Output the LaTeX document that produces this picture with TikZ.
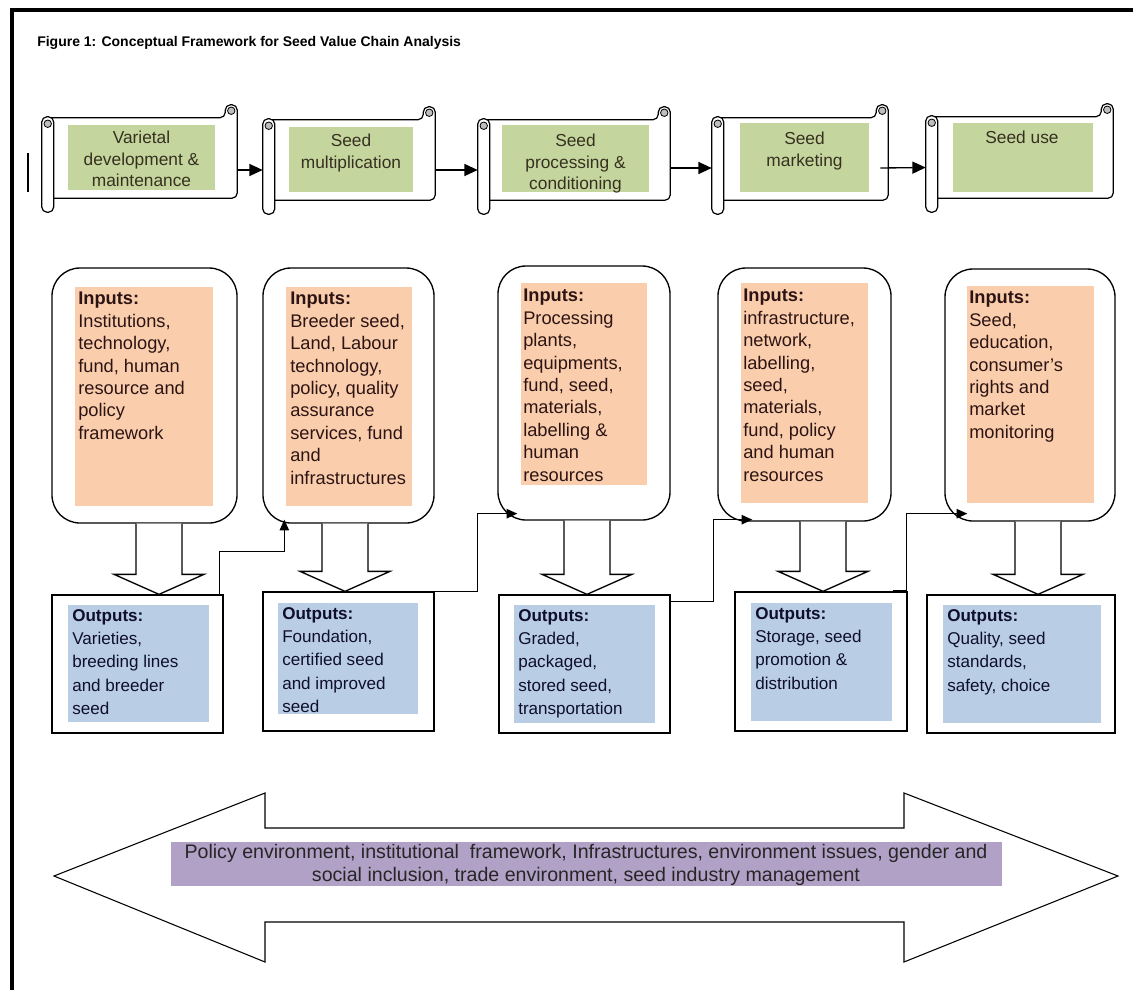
\documentclass[tikz,border=0pt]{standalone}
\usepackage{fontspec}
\setmainfont{Liberation Sans}
\usetikzlibrary{arrows.meta,calc,fit}

\definecolor{seedgreen}{RGB}{196,214,158}
\definecolor{inpeach}{RGB}{250,206,172}
\definecolor{outblue}{RGB}{185,205,228}
\definecolor{envpurple}{RGB}{178,161,199}
\definecolor{curlgray}{RGB}{190,190,190}
\definecolor{scrolltext}{RGB}{55,48,32}
\definecolor{intextc}{RGB}{45,20,20}
\definecolor{outtextc}{RGB}{15,15,45}

\newcommand{\scrollframe}[1]{%
  \draw[fill=white,rounded corners=4pt,line width=0.9pt] ($(#1.north west)+(6,0)$) -- ($(#1.north east)+(-12,0)$) -- ($(#1.north east)+(-12,-13)$) -- ($(#1.north east)+(0,-13)$) -- (#1.south east) -- ($(#1.south west)+(12,0)$);
  \draw[fill=white,rounded corners=4pt,line width=0.9pt] ($(#1.north west)+(0,-1)$) rectangle ($(#1.south west)+(12,14)$);
  \draw[fill=curlgray,line width=0.6pt] ($(#1.north west)+(6,6)$) circle[radius=2.8pt];
  \draw[fill=curlgray,line width=0.6pt] ($(#1.north east)+(-6,-7)$) circle[radius=2.8pt];
}
\newcommand{\blkarrow}[3]{%
  \coordinate (ax) at (#1,0);
  \draw[blk] ($(ax |- #2.south)+(-23,0)$) -- ($(ax |- #3.north)+(-23,-20)$) -- ($(ax |- #3.north)+(-45,-20)$) -- (ax |- #3.north) -- ($(ax |- #3.north)+(45,-20)$) -- ($(ax |- #3.north)+(23,-20)$) -- ($(ax |- #2.south)+(23,0)$);
}

\begin{document}
\begin{tikzpicture}[x=0.75pt,y=-0.75pt,
  scroll/.style={inner sep=0pt},
  inbox/.style={draw,rounded corners=21pt,line width=1pt,inner sep=0pt},
  outbox/.style={draw,line width=1pt,inner sep=0pt},
  steptext/.style={anchor=north,align=center,inner sep=0pt,text=scrolltext,font=\fontsize{13}{16}\selectfont},
  intext/.style={anchor=north west,align=left,inner sep=0pt,text=intextc,font=\fontsize{13.7}{16.8}\selectfont},
  outtext/.style={anchor=north west,align=left,inner sep=0pt,text=outtextc,font=\fontsize{12.8}{17.5}\selectfont},
  conn/.style={line width=1pt,-{Triangle[length=8pt,width=7pt]}},
  topconn/.style={line width=1pt,-{Triangle[length=10pt,width=9pt]}},
  blk/.style={line width=1pt,fill=white}]
\useasboundingbox (0,0) rectangle (1133,990);

\draw[line width=2.6pt] (1133,10) -- (12,10) -- (12,990);
\draw[line width=1.6pt] (28,153) -- (28,192);
\node[anchor=west,inner sep=0pt,font=\bfseries\fontsize{10.5}{12}\selectfont] (title) at (37,43) {Figure 1: Conceptual Framework for Seed Value Chain Analysis};

\node[scroll,fit={(42,118) (237,198)}] (sc1) {};
\node[scroll,fit={(263,120) (435,200)}] (sc2) {};
\node[scroll,fit={(478,120) (670,200)}] (sc3) {};
\node[scroll,fit={(712,118) (888,200)}] (sc4) {};
\node[scroll,fit={(926,117) (1113,198)}] (sc5) {};
\scrollframe{sc1}
\scrollframe{sc2}
\scrollframe{sc3}
\scrollframe{sc4}
\scrollframe{sc5}

\fill[seedgreen] (68,125) rectangle (215,190);
\fill[seedgreen] (289,127) rectangle (413,192);
\fill[seedgreen] (502,125) rectangle (649,192);
\fill[seedgreen] (740,123) rectangle (869,192);
\fill[seedgreen] (953,123) rectangle (1093,192);
\node[steptext] (st1) at (141.5,131) {Varietal\\development \&\\maintenance};
\node[steptext] (st2) at (351,134) {Seed\\multiplication};
\node[steptext] (st3) at (575.5,134) {Seed\\processing \&\\conditioning};
\node[steptext] (st4) at (804.5,132) {Seed\\marketing};
\node[steptext] (st5) at (1022,131) {Seed use};

\draw[topconn] ($(sc1.east)+(0,12)$) -- ($(sc2.west)+(0,10)$);
\draw[topconn] ($(sc2.east)+(0,10)$) -- ($(sc3.west)+(0,10)$);
\draw[topconn] ($(sc3.east)+(0,8)$) -- ($(sc4.west)+(0,9)$);
\draw[topconn] ($(sc4.east)+(-8,9)$) -- ($(sc5.west)+(0,10)$);

\node[inbox,fit={(52,268) (237,523)}] (ib1) {};
\node[inbox,fit={(263,268) (434,523)}] (ib2) {};
\node[inbox,fit={(498,266) (670,520)}] (ib3) {};
\node[inbox,fit={(718,268) (891,521)}] (ib4) {};
\node[inbox,fit={(945,269) (1115,521)}] (ib5) {};
\fill[inpeach] (75,287) rectangle (213,506);
\fill[inpeach] (286,287) rectangle (412,506);
\fill[inpeach] (521,283) rectangle (647,485);
\fill[inpeach] (741,283) rectangle (868,503);
\fill[inpeach] (967,286) rectangle (1094,503);
\node[intext] (it1) at (78,292) {\textbf{Inputs:}\\Institutions,\\technology,\\fund, human\\resource and\\policy\\framework};
\node[intext] (it2) at (290,292) {\textbf{Inputs:}\\Breeder seed,\\Land, Labour\\technology,\\policy, quality\\assurance\\services, fund\\and\\infrastructures};
\node[intext] (it3) at (523,289) {\textbf{Inputs:}\\Processing\\plants,\\equipments,\\fund, seed,\\materials,\\labelling \&\\human\\resources};
\node[intext] (it4) at (743,289) {\textbf{Inputs:}\\infrastructure,\\network,\\labelling,\\seed,\\materials,\\fund, policy\\and human\\resources};
\node[intext] (it5) at (969,291) {\textbf{Inputs:}\\Seed,\\education,\\consumer's\\rights and\\market\\monitoring};

\node[outbox,fit={(52,595) (223,733)}] (ob1) {};
\node[outbox,fit={(263,592) (434,731)}] (ob2) {};
\node[outbox,fit={(499,595) (670,733)}] (ob3) {};
\node[outbox,fit={(735,592) (907,731)}] (ob4) {};
\node[outbox,fit={(927,595) (1115,733)}] (ob5) {};
\fill[outblue] (68,605) rectangle (209,722);
\fill[outblue] (278,603) rectangle (418,714);
\fill[outblue] (514,605) rectangle (655,723);
\fill[outblue] (751,603) rectangle (892,721);
\fill[outblue] (943,605) rectangle (1101,723);
\node[outtext] (ot1) at (72,609) {\textbf{Outputs:}\\Varieties,\\breeding lines\\and breeder\\seed};
\node[outtext] (ot2) at (282,607) {\textbf{Outputs:}\\Foundation,\\certified seed\\and improved\\seed};
\node[outtext] (ot3) at (518,609) {\textbf{Outputs:}\\Graded,\\packaged,\\stored seed,\\transportation};
\node[outtext] (ot4) at (755,607) {\textbf{Outputs:}\\Storage, seed\\promotion \&\\distribution};
\node[outtext] (ot5) at (947,609) {\textbf{Outputs:}\\Quality, seed\\standards,\\safety, choice};

\blkarrow{159}{ib1}{ob1}
\blkarrow{345}{ib2}{ob2}
\blkarrow{587}{ib3}{ob3}
\blkarrow{823}{ib4}{ob4}
\blkarrow{1038}{ib5}{ob5}

\draw[conn] ($(ob1.north east)+(-4,0)$) -- ++(0,-43) -| ($(ib2.south west)+(22,-4)$);
\draw[conn] (ob2.north east) -- ++(43,0) |- ($(ib3.south west)+(20,-7)$);
\draw[conn] ($(ob3.north east)+(0,7)$) -- ++(43,0) |- ($(ib4.south west)+(35,-2)$);
\draw[conn] ($(ob4.north east)+(-15,-1)$) -- ++(14,0) |- ($(ib5.south west)+(23,-8)$);

\draw[line width=0.8pt,fill=white] (54,876) -- (265,793) -- (265,828) -- (904,828) -- (904,793) -- (1118,876) -- (904,962) -- (904,922) -- (265,922) -- (265,962) -- cycle;
\fill[envpurple] (171,842) rectangle (1002,886);
\node[align=center,inner sep=0pt,text=black!85,font=\fontsize{14.7}{17}\selectfont] (env) at (586,865) {Policy environment, institutional\ \ framework, Infrastructures, environment issues, gender and\\social inclusion, trade environment, seed industry management};
\end{tikzpicture}
\end{document}
